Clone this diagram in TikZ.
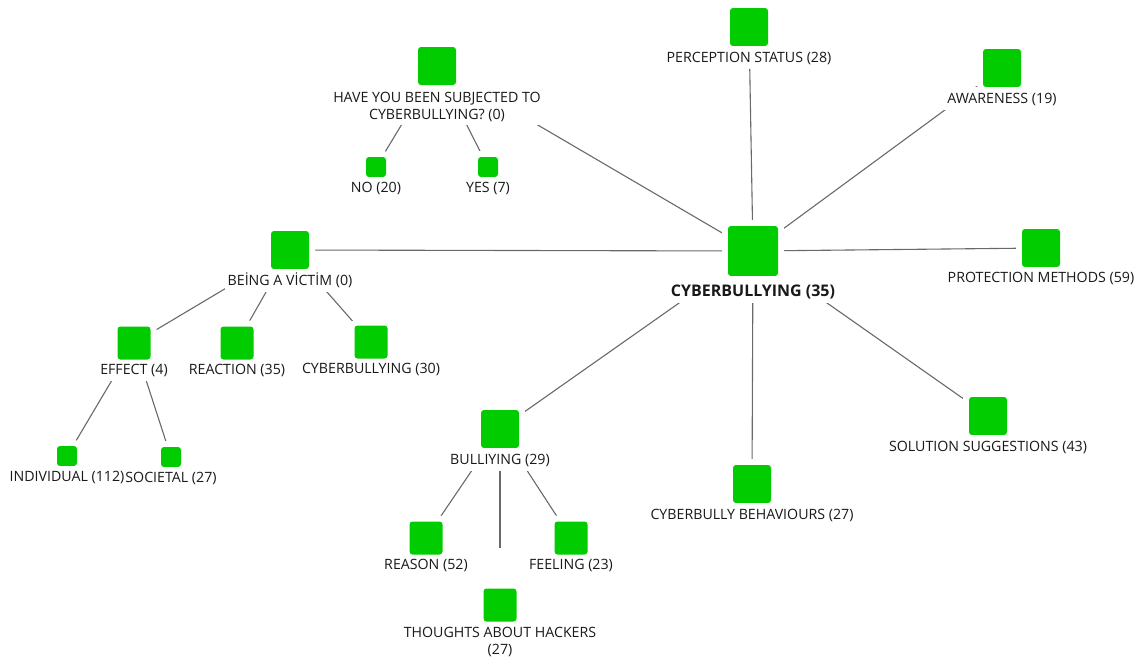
\documentclass[tikz,border=0pt]{standalone}
\usepackage{fontspec}
\setmainfont{Open Sans}
\usetikzlibrary{positioning,backgrounds}
\definecolor{codegreen}{RGB}{0,204,0}
\definecolor{linkgray}{RGB}{105,105,105}
\definecolor{labelink}{RGB}{25,25,25}

\begin{document}
\begin{tikzpicture}[x=1pt, y=-1pt,
    code/.style={fill=codegreen, rounded corners=3pt, inner sep=0pt,
                 minimum size=#1, preaction={draw=white, line width=12pt}},
    code/.default=38pt,
    lblbase/.style={fill=white, inner sep=3pt, text=labelink, align=center,
                    font=\fontsize{14.2}{17}\selectfont},
    lbl/.style={lblbase, text height=13pt, text depth=3.5pt},
    lblsm/.style={lbl, text height=12pt},
    mainlbl/.style={lbl, font=\fontsize{16}{19}\selectfont\bfseries,
                    text height=16.7pt, text depth=4pt},
    link/.style={draw=linkgray, line width=1.1pt}
]
    \useasboundingbox (0,0) rectangle (1140,657);

    \node[code=50pt] (cb)       at (753,251) {};
    \node[code]      (percep)   at (749,27)  {};
    \node[code]      (aware)    at (1002,68) {};
    \node[code]      (protect)  at (1041,248) {};
    \node[code]      (solution) at (988,416) {};
    \node[code]      (behav)    at (752,484) {};
    \node[code]      (bully)    at (500,429) {};
    \node[code=33pt] (reason)   at (426,538) {};
    \node[code=33pt] (feeling)  at (571,538) {};
    \node[code=33pt] (hackers)  at (500,605) {};
    \node[code]      (victim)   at (290,250) {};
    \node[code=33pt] (effect)   at (134,343) {};
    \node[code=33pt] (reaction) at (237,343) {};
    \node[code=33pt] (cbvict)   at (371,342) {};
    \node[code=20pt] (indiv)    at (67,456)  {};
    \node[code=20pt] (societal) at (171,457) {};
    \node[code]      (subj)     at (437,66)  {};
    \node[code=20pt] (no)       at (376,167) {};
    \node[code=20pt] (yes)      at (488,167) {};

    \node[mainlbl, below=0pt of cb]       (cb-l)       {CYBERBULLYING (35)};
    \node[lbl, below=0pt of percep]       (percep-l)   {PERCEPTION STATUS (28)};
    \node[lbl, below=0pt of aware]        (aware-l)    {AWARENESS (19)};
    \node[lblsm, below=0pt of protect]    (protect-l)  {PROTECTION METHODS (59)};
    \node[lbl, below=0pt of solution]     (solution-l) {SOLUTION SUGGESTIONS (43)};
    \node[lbl, below=0pt of behav]        (behav-l)    {CYBERBULLY BEHAVIOURS (27)};
    \node[lbl, below=0pt of bully]        (bully-l)    {BULLIYING (29)};
    \node[lblsm, below=0pt of reason]     (reason-l)   {REASON (52)};
    \node[lblsm, below=0pt of feeling]    (feeling-l)  {FEELING (23)};
    \node[lblbase, below=2pt of hackers]  (hackers-l)  {THOUGHTS ABOUT HACKERS\\(27)};
    \node[lbl, below=0pt of victim]       (victim-l)   {BEİNG A VİCTİM (0)};
    \node[lblsm, below=0pt of effect]     (effect-l)   {EFFECT (4)};
    \node[lblsm, below=0pt of reaction]   (reaction-l) {REACTION (35)};
    \node[lblsm, text height=11.5pt, below=0pt of cbvict] (cbvict-l) {CYBERBULLYING (30)};
    \node[lblsm, inner xsep=0.5pt, below=0pt of indiv]    (indiv-l)    {INDIVIDUAL (112)};
    \node[lblsm, inner xsep=0.5pt, below=0pt of societal] (societal-l) {SOCIETAL (27)};
    \node[lblbase, below=4pt of subj]     (subj-l)     {HAVE YOU BEEN SUBJECTED TO\\CYBERBULLYING? (0)};
    \node[lblsm, below=0pt of no]         (no-l)       {NO (20)};
    \node[lblsm, below=0pt of yes]        (yes-l)      {YES (7)};

    \begin{scope}[on background layer]
        \draw[link] (cb.center) -- (percep.center);
        \draw[link] (cb.center) -- (aware.center);
        \draw[link] (cb.center) -- (protect.center);
        \draw[link, shorten <=44pt] (cb.center) -- (solution.center);
        \draw[link] (cb.center) -- (behav.center);
        \draw[link, shorten <=44pt] (cb.center) -- (bully.center);
        \draw[link] (cb.center) -- (victim.center);
        \draw[link, shorten >=60pt] (cb.center) -- (subj.center);
        \draw[link] (subj.center) -- (no.center);
        \draw[link] (subj.center) -- (yes.center);
        \draw[link, shorten <=40pt] (victim.center) -- (effect.center);
        \draw[link] (victim.center) -- (reaction.center);
        \draw[link] (victim.center) -- (cbvict.center);
        \draw[link] (effect.center) -- (indiv.center);
        \draw[link] (effect.center) -- (societal.center);
        \draw[link] (bully.center) -- (reason.center);
        \draw[link] (bully.center) -- (feeling.center);
        \draw[link, shorten >=57pt] (bully.center) -- (hackers.center);
    \end{scope}
\end{tikzpicture}
\end{document}
